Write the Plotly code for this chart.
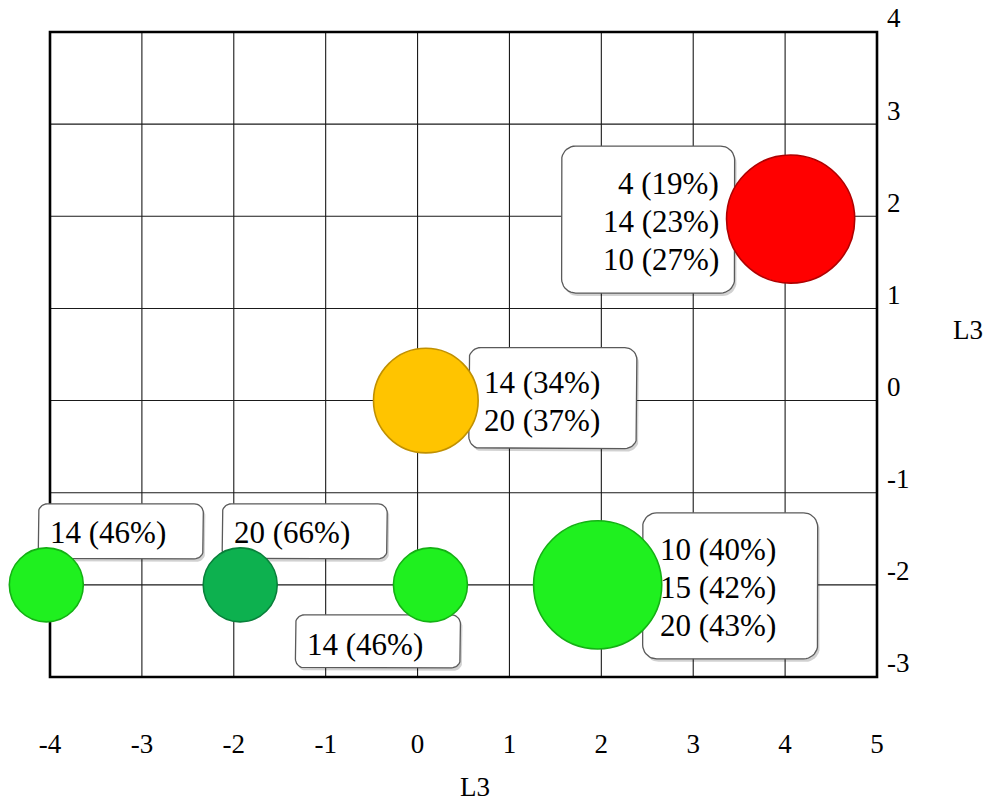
import numpy as np
import plotly.graph_objects as go

# Cluster centres on the L3 / L3 plane
cluster_x = [4.06, 0.09, 1.96, -4.04, -1.93, 0.14]
cluster_y = [1.97, 0.0, -2.0, -2.0, -2.0, -2.0]
cluster_labels = [
    ["4 (19%)", "14 (23%)", "10 (27%)"],
    ["14 (34%)", "20 (37%)"],
    ["10 (40%)", "15 (42%)", "20 (43%)"],
    ["14 (46%)"],
    ["20 (66%)"],
    ["14 (46%)"],
]
cluster_colors = ["#FF0000", "#FFC400", "#1FF01F", "#1FF01F", "#0DB14F", "#1FF01F"]
rim_colors = ["#B00000", "#C09000", "#14B014", "#14B014", "#08803A", "#14B014"]

x_ticks = [-4, -3, -2, -1, 0, 1, 2, 3, 4, 5]
y_ticks = [-3, -2, -1, 0, 1, 2, 3, 4]
axis_title = "L3"

# ---- page geometry (pixels) ----
W, H = 990, 803
ML, MR, MT, MB = 36, 110, 29, 123
PLOT_L, PLOT_R = ML, W - MR
PLOT_T, PLOT_B = MT, H - MB
X0_PX, X1_PX = 50, 877     # where the first / last x tick sits
Y0_PX, Y1_PX = 677, 32     # where the first / last y tick sits
PPX = (X1_PX - X0_PX) / (x_ticks[-1] - x_ticks[0])
PPY = (Y0_PX - Y1_PX) / (y_ticks[-1] - y_ticks[0])
x_range = [x_ticks[0] - (X0_PX - PLOT_L) / PPX, x_ticks[-1] + (PLOT_R - X1_PX) / PPX]
y_range = [y_ticks[0] - (PLOT_B - Y0_PX) / PPY, y_ticks[-1] + (Y1_PX - PLOT_T) / PPY]

FONT = "Liberation Serif"

# label box placement: pixel offsets from bubble centre (left, top, right, bottom; y down)
box_px = [(-229, -73, -56, 74), (43, -53, 211, 48), (45, -72, 220, 74),
          (-8, -81, 157, -26), (-18, -81, 147, -26), (-135, 30, 30, 83)]
box_radius = [14, 12, 14, 9, 9, 9]
text_dx = [-70, 56, 60, 2, -8, -125]
text_anchor = ["right", "left", "left", "left", "left", "left"]
text_mid_dy = [2, 1, 3, -52, -52, 60]
LINE_STEP = 38


def rounded_rect(cx, cy, box, r, sx=0.0, sy=0.0):
    l, t, rgt, b = box
    l, rgt, t, b = l + sx, rgt + sx, t + sy, b + sy
    pts = []
    corners = [(rgt - r, t + r, -90, 0), (rgt - r, b - r, 0, 90),
               (l + r, b - r, 90, 180), (l + r, t + r, 180, 270)]
    for ccx, ccy, a0, a1 in corners:
        for a in np.linspace(np.radians(a0), np.radians(a1), 10):
            pts.append((ccx + r * np.cos(a), ccy + r * np.sin(a)))
    pts.append(pts[0])
    xs = [cx + px / PPX for px, _ in pts]
    ys = [cy - py / PPY for _, py in pts]
    return xs, ys


fig = go.Figure()

# label boxes (shadow first, then white box) sit beneath the bubbles
for i in range(len(cluster_x)):
    xs, ys = rounded_rect(cluster_x[i], cluster_y[i], box_px[i], box_radius[i], 2, 3)
    fig.add_trace(go.Scatter(x=xs, y=ys, mode="lines", fill="toself",
                             fillcolor="rgba(0,0,0,0.18)", line=dict(width=0),
                             hoverinfo="skip", showlegend=False))
    xs, ys = rounded_rect(cluster_x[i], cluster_y[i], box_px[i], box_radius[i])
    fig.add_trace(go.Scatter(x=xs, y=ys, mode="lines", fill="toself",
                             fillcolor="white", line=dict(color="#5a5a5a", width=1.3),
                             hoverinfo="skip", showlegend=False))

# bubbles: area proportional to the number of entries in each cluster
sizes = [len(lbl) for lbl in cluster_labels]
fig.add_trace(go.Scatter(
    x=cluster_x, y=cluster_y, mode="markers",
    marker=dict(size=sizes, sizemode="area", sizeref=2 / 74 ** 2,
                color=cluster_colors, opacity=1,
                line=dict(color=rim_colors, width=1.6)),
    cliponaxis=False, hoverinfo="skip", showlegend=False))

# label text
annotations = []
for i, lines in enumerate(cluster_labels):
    n = len(lines)
    for k, line in enumerate(lines):
        dy = text_mid_dy[i] + (k - (n - 1) / 2) * LINE_STEP
        annotations.append(dict(
            x=cluster_x[i], y=cluster_y[i], xref="x", yref="y",
            text=line, showarrow=False, xanchor=text_anchor[i], yanchor="middle",
            xshift=text_dx[i], yshift=-dy,
            font=dict(family=FONT, size=31, color="black")))

# axis titles
annotations.append(dict(x=(475 - PLOT_L) / (PLOT_R - PLOT_L), y=-(787 - PLOT_B) / (PLOT_B - PLOT_T),
                        xref="paper", yref="paper", text=axis_title, showarrow=False,
                        xanchor="center", yanchor="middle",
                        font=dict(family=FONT, size=27, color="black")))
annotations.append(dict(x=1 + (968 - PLOT_R) / (PLOT_R - PLOT_L), y=1 - (330 - PLOT_T) / (PLOT_B - PLOT_T),
                        xref="paper", yref="paper", text=axis_title, showarrow=False,
                        xanchor="center", yanchor="middle",
                        font=dict(family=FONT, size=27, color="black")))

# grid and frame
shapes = []
for v in x_ticks:
    shapes.append(dict(type="line", xref="x", yref="y", x0=v, x1=v,
                       y0=y_ticks[0], y1=y_ticks[-1], layer="below",
                       line=dict(color="#1a1a1a", width=1.1)))
for v in y_ticks:
    shapes.append(dict(type="line", xref="x", yref="y", y0=v, y1=v,
                       x0=x_ticks[0], x1=x_ticks[-1], layer="below",
                       line=dict(color="#1a1a1a", width=1.1)))
shapes.append(dict(type="rect", xref="x", yref="y", x0=x_ticks[0], x1=x_ticks[-1],
                   y0=y_ticks[0], y1=y_ticks[-1], layer="below",
                   line=dict(color="black", width=2.6)))

fig.update_layout(
    width=W, height=H,
    margin=dict(l=ML, r=MR, t=MT, b=MB, pad=0, autoexpand=False),
    paper_bgcolor="white", plot_bgcolor="white",
    showlegend=False,
    shapes=shapes, annotations=annotations,
    xaxis=dict(range=x_range, tickvals=x_ticks, ticktext=[str(v) for v in x_ticks],
               showgrid=False, zeroline=False, showline=False, ticks="",
               automargin=False, ticklabelstandoff=45,
               tickfont=dict(family=FONT, size=27, color="black")),
    yaxis=dict(range=y_range, tickvals=y_ticks, ticktext=[str(v) for v in y_ticks],
               side="right", showgrid=False, zeroline=False, showline=False, ticks="",
               automargin=False, ticklabelstandoff=6, ticklabelshift=-14,
               tickfont=dict(family=FONT, size=27, color="black")),
)

fig.write_html("out.html")
